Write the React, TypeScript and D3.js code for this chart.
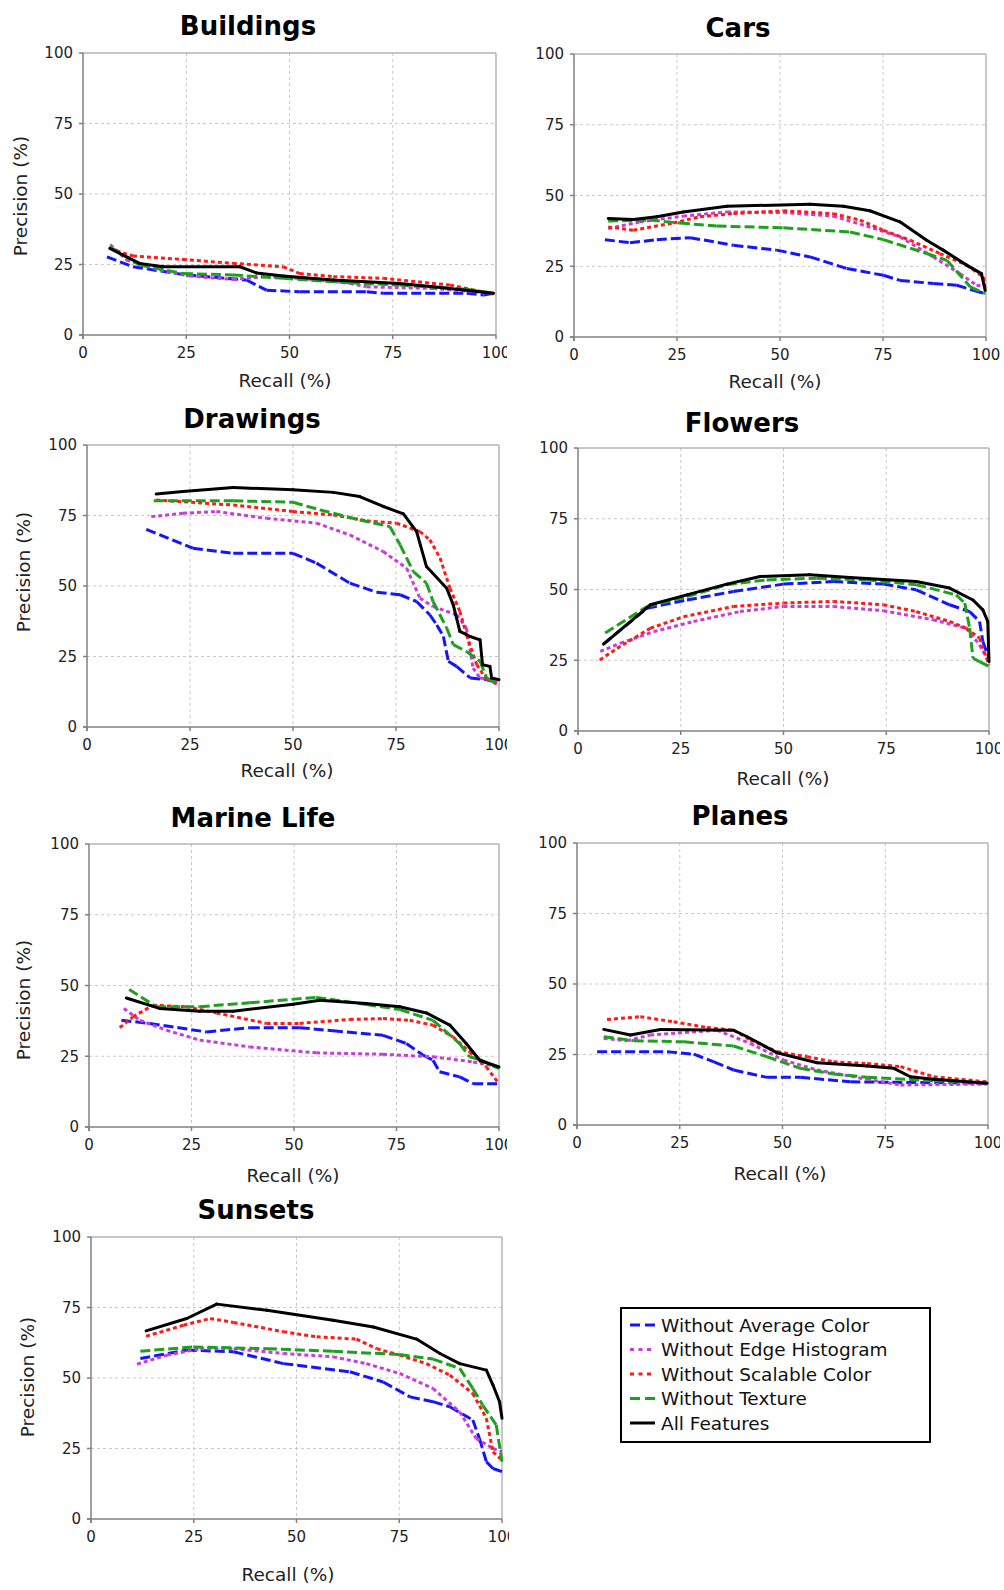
import React from 'react';
import * as d3 from 'd3';

// series order = legend order (last one drawn on top)
const seriesKeys = ['avg', 'edge', 'scal', 'tex', 'all'];
const seriesLabels = [
  'Without Average Color',
  'Without Edge Histogram',
  'Without Scalable Color',
  'Without Texture',
  'All Features',
];
const seriesColors = ['#1414ff', '#c83cdc', '#ff1a1a', '#1ea01e', '#000000'];
const seriesDash = ['10,4', '4,3', '4,3', '10,4', null];

const categories = ['Buildings', 'Cars', 'Drawings', 'Flowers', 'Marine Life', 'Planes', 'Sunsets'];
const ticks = [0, 25, 50, 75, 100];

// [recall %, precision %]
const buildings = {
  avg: [[5.8, 27.7], [12.1, 24.2], [25, 21.3], [39.6, 19.5], [44.4, 15.9], [52.5, 15.3], [68.7, 15.3], [72.7, 14.8], [92.9, 14.8], [97, 14.2], [99.4, 14.8]],
  edge: [[6.6, 32.1], [10.5, 26.6], [18.6, 23], [25.8, 20.9], [36.3, 19.7], [44.4, 20.7], [52.5, 20.1], [64.6, 18.3], [68.7, 17.1], [84.8, 16.5], [99.4, 14.8]],
  scal: [[6.5, 30.7], [12.1, 28], [24.2, 26.8], [36.3, 25.4], [48.5, 24.2], [52.5, 21.8], [60.6, 20.7], [72.7, 20.1], [88.9, 17.7], [99.4, 14.5]],
  tex: [[6.5, 31.3], [13.7, 24.8], [24.2, 21.8], [36.3, 21.3], [48.5, 20.1], [64.6, 18.5], [76.7, 17.7], [92.9, 16.2], [99.4, 14.8]],
  all: [[6.5, 30.7], [13.7, 25.4], [19.4, 24.2], [38, 24.2], [42, 22], [48.5, 20.9], [60.6, 19.5], [76.7, 18.3], [84.8, 17.1], [99.4, 14.8]],
};

const cars = {
  avg: [[7.5, 34.4], [13.6, 33.3], [20.1, 34.4], [28.2, 35.1], [38.7, 32.4], [49.2, 30.7], [57.3, 28.3], [66.2, 24.2], [75.1, 21.8], [79.1, 20], [87.2, 18.9], [92.9, 18.3], [96.9, 16.5], [99.8, 15.3]],
  edge: [[8.3, 38.3], [16, 40.7], [26.5, 42.7], [37.1, 44.2], [50.8, 44], [62.9, 42.7], [71, 39.2], [79.1, 35.4], [87.2, 28.3], [93.7, 22.4], [97.7, 18.3], [99.8, 17.7]],
  scal: [[8.3, 38.9], [14.4, 37.7], [24.1, 40.3], [30.6, 42.5], [38.7, 43.6], [50.8, 44.6], [62.9, 43.6], [69.4, 41.3], [75.1, 37.7], [81.6, 34.2], [88.8, 29.5], [95.3, 25.4], [99.4, 21.2], [99.8, 17.1]],
  tex: [[8.3, 41], [18.4, 41.3], [25.7, 40.3], [34.6, 39.2], [50.8, 38.6], [67, 37.1], [75.1, 34.4], [85.6, 29.5], [90.5, 27.1], [96.2, 17.7], [99.8, 15.3]],
  all: [[8.3, 41.9], [14.4, 41.5], [20.1, 42.5], [26.5, 44.2], [37.1, 46.2], [57.3, 46.9], [65.4, 46.2], [71.8, 44.6], [79.1, 40.7], [85.6, 34.2], [89.6, 30.7], [95.3, 25.4], [98.9, 22.4], [99.8, 16.5]],
};

const drawings = {
  avg: [[14.4, 70.1], [25.7, 63.4], [35.5, 61.6], [50, 61.6], [55.7, 58.1], [63.8, 51], [70.3, 47.8], [76, 46.9], [80, 44.5], [83.2, 39.8], [84.9, 36.2], [86.5, 32.1], [87.7, 23.3], [89.7, 21.5], [93, 17.4], [97, 16.8], [100, 15.6]],
  edge: [[15.6, 74.6], [23.3, 75.8], [31.4, 76.4], [43.6, 74], [55.7, 72.3], [63.8, 68.1], [71.9, 62.2], [77.6, 56.3], [80.8, 45.7], [84, 42.7], [89.7, 39.8], [92.1, 35.1], [93.7, 20.9], [95.4, 17.4], [100, 16.2]],
  scal: [[16.8, 80.5], [35.5, 78.7], [50, 76.4], [59.8, 75.2], [67.9, 73.1], [75.1, 72.3], [80.8, 69.3], [83.2, 66.4], [85.7, 59.9], [88.1, 49.2], [90.5, 41], [92.1, 32.7], [94.6, 22.1], [97, 16.8], [100, 15]],
  tex: [[16.2, 80.2], [35.5, 80.2], [50, 79.7], [56.5, 77], [66.2, 73.4], [73.5, 71.1], [76, 64.6], [79.2, 55.1], [82.4, 51], [84, 44.5], [87.3, 35.1], [88.9, 29.2], [92.1, 26.8], [95.4, 23.3], [97, 17.4], [100, 15]],
  all: [[16.8, 82.6], [23.3, 83.5], [35.5, 84.9], [50, 84.1], [59.8, 83.2], [66.2, 81.7], [71.9, 78.2], [76.8, 75.6], [80, 69.3], [82.4, 56.9], [87.3, 49.2], [88.9, 43.3], [90.5, 33.9], [93, 32.1], [95.4, 30.9], [96, 22.1], [97.8, 21.5], [98.2, 17.4], [100, 16.8]],
};

const flowers = {
  avg: [[6.2, 30.7], [16.8, 43.4], [26.5, 46.3], [37.8, 49.3], [50, 51.9], [62.1, 52.8], [74.3, 51.9], [82.3, 49.9], [90.4, 44.6], [95.3, 42.2], [97.7, 38.7], [98.5, 31.6], [100, 25.7]],
  edge: [[5.4, 28.1], [10.3, 31], [18.4, 35.1], [28.1, 38.7], [39.4, 42.2], [50, 44], [62.1, 44], [74.3, 42.5], [86.4, 39.3], [94.5, 36.3], [97.7, 30.4], [100, 24.5]],
  scal: [[5.3, 25.1], [9.5, 29.2], [17.6, 36.3], [25.7, 40.4], [37.8, 44], [50, 45.2], [62.1, 45.8], [74.3, 44.6], [82.3, 42.2], [90.4, 38.7], [94.5, 36.3], [97.7, 32.8], [100, 23.3]],
  tex: [[6.6, 34.6], [16.8, 44], [26.5, 47.5], [36.2, 51.7], [45.9, 53.4], [58.1, 54], [70.2, 53.4], [82.3, 51.7], [92, 48.1], [94.1, 45.2], [95.3, 36.3], [96.1, 25.7], [97.7, 24.5], [100, 22.8]],
  all: [[6.2, 30.7], [17.6, 44.6], [26.5, 48.1], [36.2, 51.9], [44.3, 54.6], [56.4, 55.2], [66.2, 54.2], [82.3, 52.8], [90.4, 50.5], [96.1, 46.3], [98.5, 42.8], [99.7, 38.7], [100, 24.5]],
};

const marineLife = {
  avg: [[7.9, 37.7], [14.8, 36.6], [28.6, 33.6], [39.2, 35.1], [51.4, 35.1], [59.5, 34], [71.7, 32.4], [77.4, 29.5], [81.5, 25.4], [83.9, 23.6], [85.5, 19.5], [90.4, 17.7], [93.7, 15.3], [100, 15.3]],
  edge: [[8.5, 41.9], [12.4, 37.7], [18.9, 34.2], [27, 30.7], [39.2, 28.3], [55.4, 26.2], [71.7, 25.7], [83.9, 24.8], [93.7, 23], [100, 21.2]],
  scal: [[7.5, 35.1], [10.7, 38.9], [15.6, 43], [23.7, 42.5], [31.1, 40.3], [43.3, 36.6], [51.4, 36.6], [63.6, 38], [71.7, 38.3], [78.2, 37.7], [83.9, 36], [88.8, 31.8], [92.8, 26.5], [96.9, 21.2], [100, 15.3]],
  tex: [[9.8, 48.6], [16.4, 42.5], [27, 42.5], [39.2, 43.9], [55.4, 45.8], [67.6, 43.3], [75.8, 41.5], [83.9, 37.7], [90.4, 29.5], [92.8, 24.8], [95.3, 23.8], [100, 20.6]],
  all: [[9.1, 45.6], [17.2, 41.9], [27, 40.9], [35.1, 40.9], [49.8, 43.4], [56.3, 44.8], [67.6, 43.6], [75.8, 42.5], [82.3, 40.3], [88, 36], [92, 29.5], [95.3, 23.6], [100, 21.2]],
};

const planes = {
  avg: [[4.9, 26], [21.9, 26], [28.4, 25.1], [33.3, 22.4], [38.1, 19.5], [46.2, 16.9], [54.3, 16.9], [66.5, 15.3], [99.8, 14.8]],
  edge: [[6.5, 30.7], [12.2, 29.9], [17.8, 31.9], [34.1, 33.6], [42.2, 28.9], [50.3, 23], [58.4, 19.5], [70.6, 16.2], [78.7, 14.2], [99.8, 14.5]],
  scal: [[7.3, 37.4], [15.4, 38.4], [23.5, 36.6], [31.6, 34.6], [38.1, 33.6], [42.2, 30.1], [48.7, 26], [56, 24.2], [62.4, 22.4], [70.6, 21.8], [78.7, 20.7], [86.8, 17.1], [99.8, 15.3]],
  tex: [[6.5, 31.3], [13.8, 29.9], [26, 29.5], [38.1, 28], [46.2, 24.2], [54.3, 20.1], [62.4, 18.1], [70.6, 16.9], [86.8, 15.7], [99.8, 15]],
  all: [[6.5, 33.9], [13, 31.9], [20.3, 33.9], [38.1, 33.6], [41.4, 31.3], [48.7, 25.6], [58.4, 22.1], [70.6, 20.9], [77.1, 20.1], [81.1, 17.1], [86.8, 16.2], [99.8, 14.8]],
};

const sunsets = {
  avg: [[12, 56.9], [23.3, 59.9], [34.7, 59.3], [46.8, 55.1], [63, 52.2], [71.1, 48.6], [77.6, 43.3], [83.2, 41.6], [87.3, 39.8], [92.9, 35.1], [94.5, 28.6], [96.2, 20.3], [97.8, 17.9], [100, 16.8]],
  edge: [[11.2, 54.9], [18.5, 58.1], [26.6, 60.4], [34.7, 60.4], [46.8, 58.7], [58.9, 57.5], [67, 55.1], [75.1, 51.6], [83.2, 46.3], [89.7, 38], [93.7, 28.6], [97.8, 25], [100, 23.9]],
  scal: [[13.4, 64.8], [22.5, 68.7], [29, 71.1], [34.7, 69.7], [46.8, 66.4], [54.9, 64.6], [64.6, 63.8], [69.5, 60.4], [75.1, 58.1], [81.6, 55.1], [87.3, 51], [92.9, 44.5], [96.2, 35.7], [97.8, 23.8], [100, 20.9]],
  tex: [[12, 59.5], [24.9, 61], [42.8, 60.4], [58.9, 59.5], [75.1, 58.3], [83.2, 56.7], [89.7, 53.4], [92.9, 46.3], [95.3, 40.4], [98.6, 33.3], [100, 20.3]],
  all: [[13.4, 66.7], [23.3, 71.1], [30.6, 76.2], [42.8, 74], [58.9, 70.5], [68.7, 68.1], [79.2, 63.8], [84.9, 58.7], [89.7, 55.1], [96.2, 52.8], [97.8, 47.5], [99.4, 41.6], [100, 35.7]],
};

const categoryData = [buildings, cars, drawings, flowers, marineLife, planes, sunsets];

// panel frames: plot box, title, x-title, y-title (null = none), clip right edge
const panels = [
  { box: [83, 53, 496, 335], title: [248, 35], xt: [285, 387], yt: [20, 196], clip: 507 },
  { box: [574, 54, 986, 337], title: [738, 37], xt: [775, 388], yt: null, clip: 1000 },
  { box: [87, 445, 499, 727], title: [252, 428], xt: [287, 777], yt: [23, 572], clip: 507 },
  { box: [578, 448, 989, 731], title: [742, 432], xt: [783, 785], yt: null, clip: 1000 },
  { box: [89, 844, 499, 1127], title: [253, 827], xt: [293, 1182], yt: [23, 1000], clip: 507 },
  { box: [577, 843, 988, 1125], title: [740, 825], xt: [780, 1180], yt: null, clip: 1000 },
  { box: [91, 1237, 502, 1519], title: [256, 1219], xt: [288, 1581], yt: [27, 1377], clip: 509 },
];

const FONT = 'DejaVu Sans, Verdana, sans-serif';

function Panel({ idx }) {
  const p = panels[idx];
  const [l, t, r, b] = p.box;
  const data = categoryData[idx];
  const x = d3.scaleLinear().domain([0, 100]).range([l, r]);
  const y = d3.scaleLinear().domain([0, 100]).range([b, t]);
  const clipId = 'clip' + idx;
  const x0 = idx % 2 === 0 ? 0 : 507;

  return (
    <g clipPath={`url(#${clipId})`}>
      <clipPath id={clipId}>
        <rect x={x0} y={t - 60} width={p.clip - x0} height={b - t + 140} />
      </clipPath>
      {/* grid */}
      {ticks.slice(1, 4).map(v => (
        <g key={'g' + v}>
          <line x1={x(v)} x2={x(v)} y1={t} y2={b} stroke="#c8c8c8" strokeDasharray="3,3" />
          <line x1={l} x2={r} y1={y(v)} y2={y(v)} stroke="#c8c8c8" strokeDasharray="3,3" />
        </g>
      ))}
      <line x1={l} x2={r} y1={t} y2={t} stroke="#b4b4b4" strokeWidth={1.5} />
      <line x1={r} x2={r} y1={t} y2={b} stroke="#b4b4b4" strokeWidth={1.5} />
      <line x1={l} x2={l} y1={t} y2={b + 4} stroke="#808080" strokeWidth={1.5} />
      <line x1={l - 4} x2={r} y1={b} y2={b} stroke="#808080" strokeWidth={1.5} />
      {ticks.map(v => (
        <g key={'t' + v}>
          <line x1={l - 4} x2={l} y1={y(v)} y2={y(v)} stroke="#808080" strokeWidth={1.5} />
          <line x1={x(v)} x2={x(v)} y1={b} y2={b + 4} stroke="#808080" strokeWidth={1.5} />
          <text x={l - 10} y={y(v)} dy="0.36em" textAnchor="end" fontSize={15} fill="#222">{v}</text>
          <text x={x(v)} y={b + 23} textAnchor="middle" fontSize={15} fill="#222">{v}</text>
        </g>
      ))}

      {/* series, dash pattern restarts at each point like the original */}
      {seriesKeys.map((k, si) => {
        const pts = data[k];
        return (
          <g key={k} stroke={seriesColors[si]} strokeWidth={3} strokeDasharray={seriesDash[si] || undefined}>
            {d3.pairs(pts).map(([a, c], i) => (
              <line key={i} x1={x(a[0])} y1={y(a[1])} x2={x(c[0])} y2={y(c[1])} strokeLinecap={seriesDash[si] ? 'butt' : 'round'} />
            ))}
          </g>
        );
      })}

      <text x={p.title[0]} y={p.title[1]} textAnchor="middle" fontSize={26} fontWeight="bold" fill="#000">{categories[idx]}</text>
      <text x={p.xt[0]} y={p.xt[1]} textAnchor="middle" fontSize={18.5} fill="#222">Recall (%)</text>
      {p.yt && (
        <text transform={`translate(${p.yt[0]},${p.yt[1]}) rotate(-90)`} dy="0.36em" textAnchor="middle" fontSize={18.5} fill="#222">Precision (%)</text>
      )}
    </g>
  );
}

function Legend() {
  const rowY = d3.scaleLinear().domain([0, 4]).range([1325, 1423]);
  return (
    <g>
      <rect x={621} y={1308} width={309} height={134} fill="#fff" stroke="#000" strokeWidth={2} />
      {seriesLabels.map((s, i) => (
        <g key={s}>
          <line x1={630} x2={655} y1={rowY(i)} y2={rowY(i)} stroke={seriesColors[i]} strokeWidth={3}
            strokeDasharray={seriesDash[i] ? (seriesDash[i] === '10,4' ? '10,5' : '4,4.5') : undefined} />
          <text x={661} y={rowY(i)} dy="0.36em" fontSize={18.5} fill="#111">{s}</text>
        </g>
      ))}
    </g>
  );
}

export default function App() {
  return (
    <svg width={1004} height={1590} style={{ position: 'absolute', left: 0, top: 0, background: '#fff' }} fontFamily={FONT}>
      <rect width={1004} height={1590} fill="#fff" />
      {categories.map((c, i) => <Panel key={c} idx={i} />)}
      <Legend />
    </svg>
  );
}
